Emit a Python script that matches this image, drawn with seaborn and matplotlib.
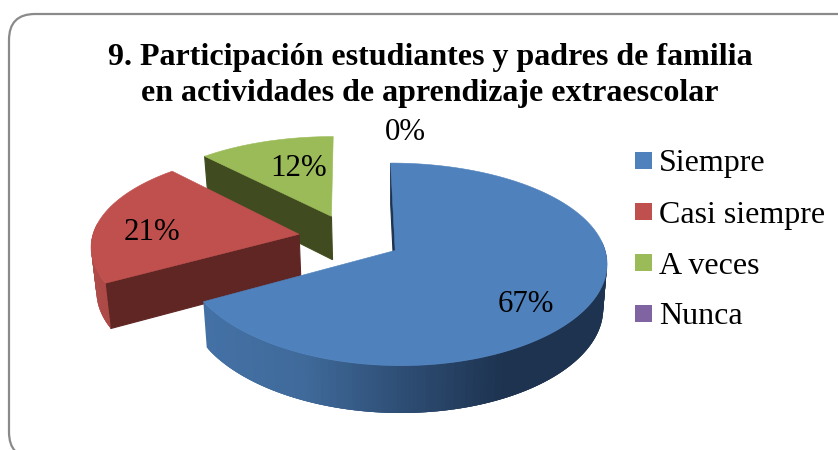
import numpy as np
import matplotlib
matplotlib.use("Agg")
import matplotlib.pyplot as plt
from matplotlib.patches import Polygon, FancyBboxPatch, Rectangle
import seaborn as sns

categories = ["Siempre", "Casi siempre", "A veces", "Nunca"]
values = [67, 21, 12, 0]
title_lines = ["9. Participación estudiantes y padres de familia",
               "en actividades de aprendizaje extraescolar"]

top_colors = ["#4f81bd", "#c0504d", "#9bbb59", "#8064a2"]
wall_colors = ["#1d3350", "#5f2624", "#404c20", "#3f2f52"]
rim_stops = [["#4471a6", "#3f6a9a", "#2e4d74", "#1d3350", "#1d3350"],
             ["#b04b48", "#a54644", "#8f3e3c", "#6a2d2b", "#5f2624"],
             ["#86a24c", "#6f8740", "#556a30", "#404c20", "#404c20"],
             ["#6f568d", "#5a4673", "#4a395f", "#3f2f52", "#3f2f52"]]

sns.set_theme(style="white")
plt.rcParams["font.family"] = ["Liberation Serif", "DejaVu Serif"]

W, H = 838, 450
fig = plt.figure(figsize=(W / 100, H / 100), dpi=100)
ax = fig.add_axes([0, 0, 1, 1])
ax.set_xlim(0, W)
ax.set_ylim(H, 0)
ax.axis("off")

ax.add_patch(FancyBboxPatch((34, 39), 850, 394,
                            boxstyle="round,pad=25,rounding_size=26",
                            fc="white", ec="#8a8a8a", lw=1.6, zorder=0))

# perspective projection of the pie's plane onto the picture
X0, Y0, BX, AY, KX, KY = 350, 238, 207, 96, 0.11, 0.135
EXPLODE = 0.25
XC = 393


def project(px, py):
    return X0 + BX * px / (1 + KX * py), Y0 - AY * py / (1 + KY * py)


def lower(x, y, py):
    return XC + (x - XC) * 0.982, y + 44 - 3 * py


fracs = np.array(values, dtype=float) / sum(values)
ends = np.cumsum(fracs) * 2 * np.pi
starts = ends - fracs * 2 * np.pi

# back to front: green first, blue last
for i in [3, 2, 1, 0]:
    if fracs[i] == 0:
        continue
    a0, a1 = starts[i], ends[i]
    mid = (a0 + a1) / 2
    ox, oy = EXPLODE * np.sin(mid), EXPLODE * np.cos(mid)
    th = np.linspace(a0, a1, 241)
    px = ox + np.sin(th)
    py = oy + np.cos(th)
    sx, sy = project(px, py)
    ax_, ay_ = project(ox, oy)
    lx, ly = lower(sx, sy, py)
    alx, aly = lower(ax_, ay_, oy)

    # flat wall from the apex to the start of the arc
    ax.add_patch(Polygon([(ax_, ay_), (sx[0], sy[0]), (lx[0], ly[0]), (alx, aly)],
                         closed=True, fc=wall_colors[i], ec=wall_colors[i], lw=0.8))

    # outer rim, only where it faces the viewer
    pal = sns.blend_palette(rim_stops[i], 256)
    for j in range(len(th) - 3):
        t = th[j]
        if t < np.radians(84) or t > np.radians(276):
            continue
        u = np.clip((sx[j] - sx.min()) / (sx.max() - sx.min()), 0, 1)
        if i == 1:
            u = 0.05 + 0.2 * u
        col = pal[int(u * 255)]
        ax.add_patch(Polygon([(sx[j], sy[j]), (sx[j + 3], sy[j + 3]),
                              (lx[j + 3], ly[j + 3]), (lx[j], ly[j])],
                             closed=True, fc=col, ec="none", lw=0, snap=False))

    # top surface
    ax.add_patch(Polygon(np.column_stack([np.r_[ax_, sx], np.r_[ay_, sy]]),
                         closed=True, fc=top_colors[i], ec=top_colors[i], lw=0.4))

# value labels
label_pos = [(526, 304), (152, 232), (299, 168), (405, 133)]
for v, (x, y) in zip(values, label_pos):
    ax.text(x, y, f"{v}%", ha="center", va="center", fontsize=22.2, color="black")

# title
for line, y in zip(title_lines, [58, 94]):
    ax.text(430, y, line, ha="center", va="center", fontsize=23,
            fontweight="bold", color="black")

# legend
for k, (name, col) in enumerate(zip(categories, top_colors)):
    y = 152 + 51 * k
    ax.add_patch(Rectangle((635, y), 17, 17, fc=col, ec="none"))
    ax.text(659, y + 12, name, ha="left", va="center", fontsize=23, color="black")

fig.savefig("out.png", dpi=100)
